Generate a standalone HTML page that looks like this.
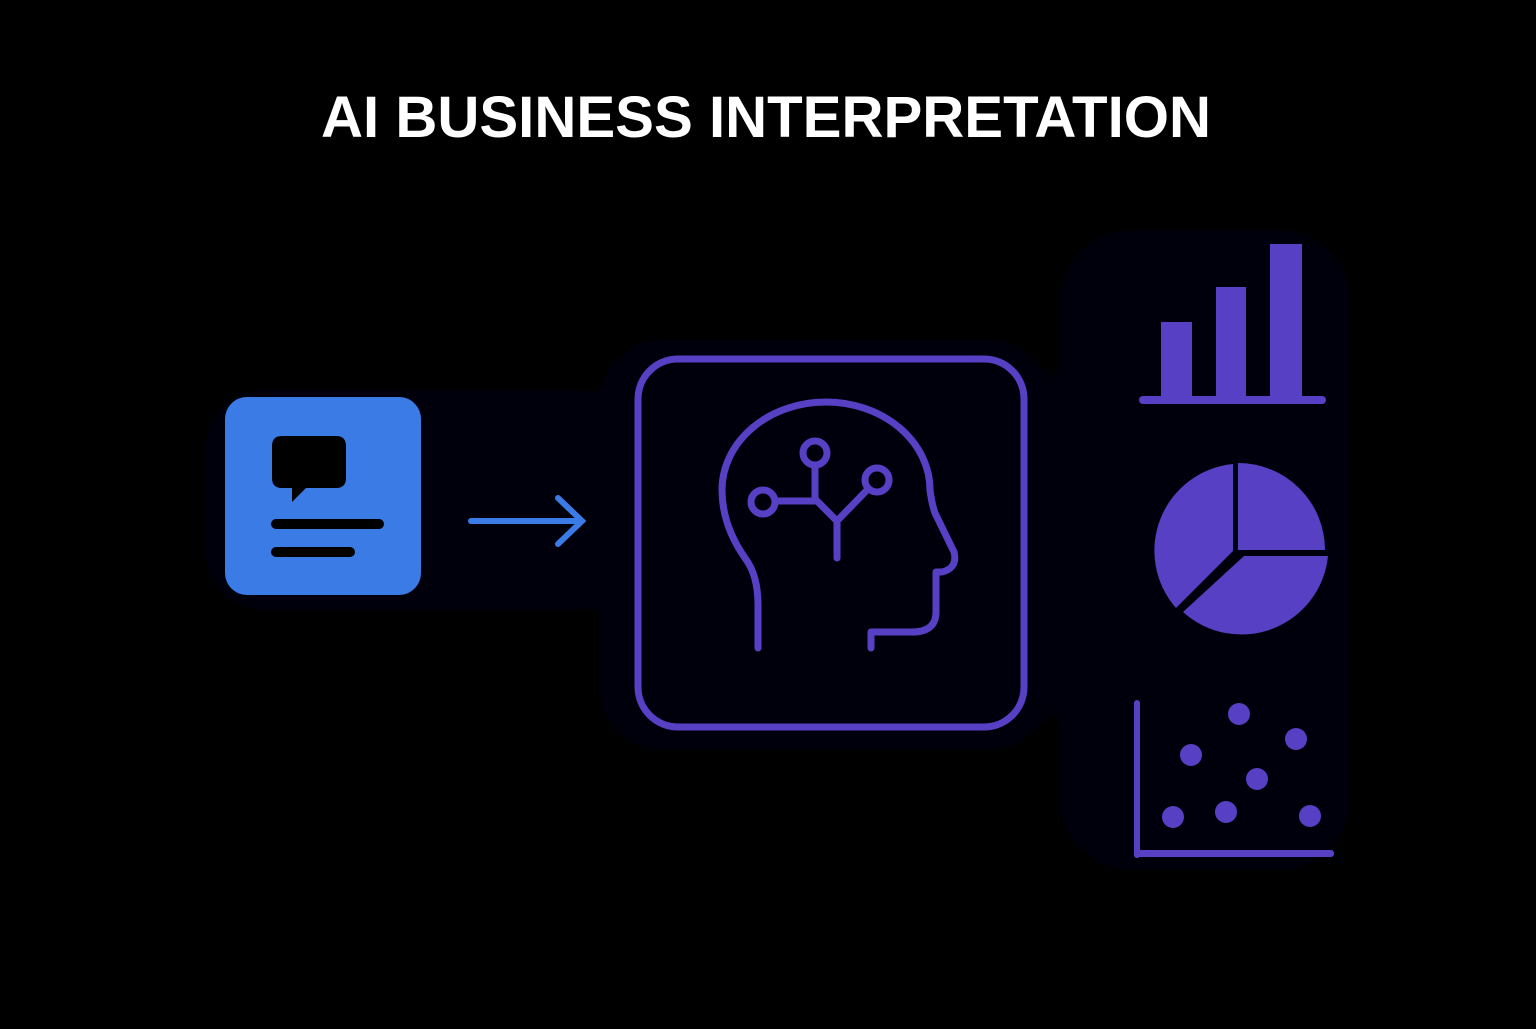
<!DOCTYPE html>
<html><head><meta charset="utf-8"><style>
html,body{margin:0;padding:0;background:#000;}
body{width:1536px;height:1024px;overflow:hidden;}
</style></head><body>
<svg width="1536" height="1024" viewBox="0 0 1536 1024" xmlns="http://www.w3.org/2000/svg">
<rect width="1536" height="1024" fill="#000"/>
<defs><filter id="b"><feGaussianBlur stdDeviation="12"/></filter></defs>
<g fill="#03060f" filter="url(#b)">
<rect x="205" y="390" width="430" height="220" rx="60"/>
<rect x="600" y="340" width="450" height="410" rx="60"/>
<rect x="1060" y="230" width="290" height="640" rx="70"/>
</g>
<text x="321" y="137" textLength="890" lengthAdjust="spacingAndGlyphs" fill="#fff" font-family="Liberation Sans, sans-serif" font-weight="bold" font-size="58">AI BUSINESS INTERPRETATION</text>
<rect x="225" y="397" width="196" height="198" rx="22" fill="#3a7be6"/>
<path d="M282 436 H336 Q346 436 346 446 V478 Q346 488 336 488 H306 L292 502 V488 H282 Q272 488 272 478 V446 Q272 436 282 436Z" fill="#000"/>
<line x1="276" y1="524" x2="379" y2="524" stroke="#000" stroke-width="10" stroke-linecap="round"/>
<line x1="276" y1="552" x2="350" y2="552" stroke="#000" stroke-width="10" stroke-linecap="round"/>
<g stroke="#3a7be6" stroke-width="6" stroke-linecap="round" fill="none">
<line x1="471" y1="521" x2="580" y2="521"/>
<polyline points="558,498 582,521 558,544"/>
</g>
<g stroke="#5740c4" fill="none" stroke-linecap="round" stroke-linejoin="round">
<rect x="638" y="359" width="386" height="368" rx="40" stroke-width="7"/>
<path d="M758 648 V605 Q758 575 745 558 Q722 525 722 490 A104 88 0 0 1 930 490 Q932 505 935 513 L954 552 Q958 568 942 572 H936 V612 Q936 632 912 632 H871 V648" stroke-width="7"/>
<circle cx="815" cy="453" r="12" stroke-width="7"/>
<circle cx="763" cy="502" r="12" stroke-width="7"/>
<circle cx="877" cy="480" r="12" stroke-width="7"/>
<polyline points="815,465 815,499 837,521" stroke-width="7"/>
<line x1="775" y1="501" x2="815" y2="501" stroke-width="7"/>
<line x1="868" y1="489" x2="837" y2="521" stroke-width="7"/>
<line x1="837" y1="521" x2="837" y2="558" stroke-width="7"/>
</g>
<g fill="#5740c4">
<rect x="1161" y="322" width="31" height="78"/>
<rect x="1216" y="287" width="30" height="113"/>
<rect x="1270" y="244" width="32" height="156"/>
<rect x="1139" y="396" width="187" height="8" rx="4"/>
<path d="M1238 550 L1238 463 A87 87 0 0 1 1325 550 Z"/>
<path d="M1244 556 L1328 556 A87 87 0 0 1 1183 612 Z"/>
<path d="M1233 551 L1176 608 A87 87 0 0 1 1233 464 Z"/>
<rect x="1134" y="700" width="6" height="158" rx="3"/>
<rect x="1134" y="850" width="200" height="7" rx="3"/>
<circle cx="1239" cy="714" r="11"/>
<circle cx="1296" cy="739" r="11"/>
<circle cx="1191" cy="755" r="11"/>
<circle cx="1257" cy="779" r="11"/>
<circle cx="1173" cy="817" r="11"/>
<circle cx="1226" cy="812" r="11"/>
<circle cx="1310" cy="816" r="11"/>
</g>
</svg>
</body></html>
